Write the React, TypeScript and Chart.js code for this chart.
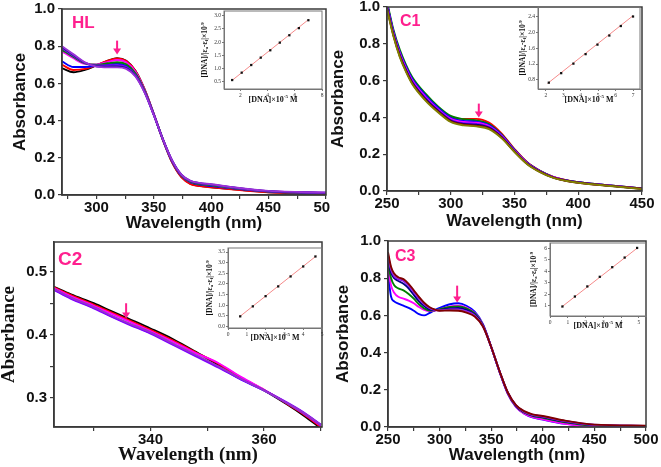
import React, { useEffect, useRef } from 'react';
import { Chart, registerables } from 'chart.js';
Chart.register(...registerables);

const PINK = '#ff1f8e';
const AX = '#3a3a3a';
const SANS = '"Liberation Sans", Arial, sans-serif';
const SERIF = '"Liberation Serif", "Times New Roman", serif';

// ---------- HL spectra ----------
const HL_WL = [270, 280, 290, 300, 310, 318, 326, 334, 342, 350, 358, 366, 374, 382, 390, 400, 420, 450, 500];
const HL_BLACK = [0.682, 0.660, 0.673, 0.697, 0.722, 0.736, 0.722, 0.668, 0.568, 0.435, 0.295, 0.175, 0.097, 0.060, 0.049, 0.042, 0.030, 0.015, 0.010];
const HL_RED = [0.700, 0.672, 0.678, 0.698, 0.722, 0.734, 0.720, 0.666, 0.566, 0.433, 0.294, 0.174, 0.096, 0.059, 0.048, 0.041, 0.029, 0.014, 0.009];
const HL_BLUE = [0.718, 0.688, 0.688, 0.695, 0.703, 0.706, 0.694, 0.648, 0.556, 0.430, 0.296, 0.180, 0.103, 0.068, 0.056, 0.048, 0.034, 0.018, 0.010];
const HL_MAGENTA = [0.772, 0.735, 0.705, 0.702, 0.716, 0.726, 0.714, 0.662, 0.565, 0.436, 0.298, 0.182, 0.105, 0.071, 0.060, 0.053, 0.037, 0.020, 0.011];
const HL_GREEN = [0.780, 0.742, 0.708, 0.700, 0.708, 0.714, 0.703, 0.655, 0.561, 0.434, 0.298, 0.182, 0.105, 0.070, 0.059, 0.052, 0.036, 0.019, 0.011];
const HL_PURPLE = [0.790, 0.748, 0.710, 0.696, 0.697, 0.698, 0.688, 0.645, 0.556, 0.432, 0.299, 0.184, 0.108, 0.074, 0.063, 0.056, 0.039, 0.020, 0.012];
const HL_NAVY = [0.795, 0.752, 0.711, 0.692, 0.690, 0.691, 0.682, 0.640, 0.552, 0.430, 0.298, 0.184, 0.109, 0.075, 0.064, 0.057, 0.040, 0.021, 0.012];
const HL_VIOLET = [0.800, 0.756, 0.713, 0.690, 0.686, 0.686, 0.678, 0.637, 0.550, 0.429, 0.298, 0.185, 0.110, 0.076, 0.065, 0.058, 0.041, 0.022, 0.013];

// ---------- C1 spectra ----------
const C1_WL = [250, 255, 260, 265, 270, 280, 290, 300, 310, 320, 330, 340, 350, 360, 370, 380, 390, 400, 425, 450];
const C1_RED = [1.02, 0.862, 0.748, 0.668, 0.602, 0.515, 0.448, 0.402, 0.392, 0.392, 0.372, 0.312, 0.228, 0.156, 0.110, 0.078, 0.060, 0.048, 0.030, 0.014];
const C1_GREEN = [1.03, 0.878, 0.768, 0.684, 0.617, 0.530, 0.460, 0.408, 0.390, 0.384, 0.364, 0.306, 0.225, 0.154, 0.109, 0.077, 0.059, 0.048, 0.030, 0.014];
const C1_BLUE = [1.02, 0.868, 0.757, 0.674, 0.607, 0.521, 0.452, 0.398, 0.381, 0.377, 0.358, 0.303, 0.223, 0.153, 0.108, 0.077, 0.059, 0.048, 0.030, 0.014];
const C1_MAGENTA = [1.01, 0.860, 0.749, 0.666, 0.599, 0.513, 0.445, 0.392, 0.375, 0.371, 0.353, 0.299, 0.221, 0.151, 0.107, 0.076, 0.058, 0.047, 0.029, 0.013];
const C1_PURPLE = [1.00, 0.855, 0.743, 0.660, 0.593, 0.507, 0.440, 0.387, 0.369, 0.365, 0.348, 0.295, 0.218, 0.149, 0.106, 0.075, 0.057, 0.046, 0.029, 0.013];
const C1_NAVY = [1.00, 0.851, 0.738, 0.655, 0.588, 0.502, 0.436, 0.383, 0.365, 0.360, 0.344, 0.292, 0.216, 0.148, 0.105, 0.074, 0.057, 0.046, 0.028, 0.012];
const C1_BROWN = [0.99, 0.846, 0.733, 0.650, 0.583, 0.497, 0.432, 0.379, 0.361, 0.355, 0.340, 0.289, 0.214, 0.147, 0.104, 0.074, 0.056, 0.045, 0.028, 0.012];
const C1_OLIVE = [0.99, 0.842, 0.729, 0.646, 0.579, 0.493, 0.428, 0.375, 0.357, 0.351, 0.336, 0.286, 0.212, 0.146, 0.103, 0.073, 0.056, 0.045, 0.027, 0.011];

// ---------- C2 spectra ----------
const C2_WL = [323, 326, 330, 333, 336, 340, 344, 348, 352, 356, 360, 364, 367, 370];
const C2_BLACK = [0.476, 0.464, 0.450, 0.438, 0.426, 0.410, 0.393, 0.373, 0.352, 0.331, 0.312, 0.290, 0.272, 0.252];
const C2_RED = [0.475, 0.463, 0.448, 0.436, 0.424, 0.408, 0.391, 0.372, 0.354, 0.332, 0.313, 0.291, 0.274, 0.254];
const C2_MAGENTA = [0.474, 0.461, 0.446, 0.434, 0.422, 0.406, 0.389, 0.371, 0.355, 0.333, 0.313, 0.292, 0.275, 0.256];
const C2_BLUE = [0.472, 0.458, 0.443, 0.430, 0.418, 0.403, 0.385, 0.367, 0.349, 0.329, 0.312, 0.292, 0.276, 0.257];
const C2_PURPLE = [0.471, 0.457, 0.442, 0.429, 0.417, 0.402, 0.384, 0.366, 0.348, 0.329, 0.312, 0.293, 0.277, 0.258];
const C2_VIOLET = [0.473, 0.459, 0.444, 0.431, 0.419, 0.404, 0.386, 0.368, 0.350, 0.330, 0.312, 0.292, 0.276, 0.257];

// ---------- C3 spectra ----------
const C3_WL = [250, 253, 256, 260, 265, 270, 275, 280, 285, 290, 295, 300, 310, 318, 326, 334, 342, 350, 358, 366, 374, 382, 390, 400, 420, 450, 500];
const C3_BLUE = [0.82, 0.70, 0.675, 0.663, 0.652, 0.640, 0.625, 0.607, 0.600, 0.612, 0.627, 0.640, 0.660, 0.665, 0.652, 0.620, 0.553, 0.430, 0.298, 0.180, 0.108, 0.072, 0.052, 0.040, 0.018, 0.004, 0.002];
const C3_MAGENTA = [0.86, 0.76, 0.722, 0.700, 0.690, 0.680, 0.665, 0.645, 0.630, 0.623, 0.625, 0.632, 0.648, 0.652, 0.642, 0.613, 0.550, 0.430, 0.298, 0.180, 0.108, 0.072, 0.053, 0.041, 0.019, 0.004, 0.002];
const C3_GREEN = [0.88, 0.80, 0.762, 0.745, 0.735, 0.715, 0.690, 0.660, 0.638, 0.626, 0.627, 0.633, 0.645, 0.648, 0.638, 0.610, 0.548, 0.430, 0.300, 0.184, 0.112, 0.078, 0.060, 0.050, 0.027, 0.008, 0.004];
const C3_NAVY = [0.90, 0.83, 0.800, 0.785, 0.770, 0.745, 0.710, 0.675, 0.650, 0.632, 0.628, 0.630, 0.638, 0.640, 0.630, 0.605, 0.546, 0.430, 0.300, 0.185, 0.114, 0.080, 0.063, 0.053, 0.030, 0.010, 0.005];
const C3_PURPLE = [0.92, 0.845, 0.810, 0.795, 0.785, 0.760, 0.725, 0.690, 0.660, 0.640, 0.630, 0.628, 0.632, 0.632, 0.622, 0.600, 0.543, 0.430, 0.301, 0.186, 0.116, 0.082, 0.065, 0.056, 0.033, 0.011, 0.006];
const C3_VIOLET = [0.925, 0.85, 0.815, 0.800, 0.790, 0.765, 0.730, 0.695, 0.663, 0.642, 0.631, 0.627, 0.630, 0.630, 0.620, 0.598, 0.542, 0.430, 0.301, 0.186, 0.116, 0.083, 0.066, 0.057, 0.034, 0.012, 0.006];
const C3_MAROON = [0.94, 0.86, 0.825, 0.805, 0.795, 0.770, 0.735, 0.700, 0.668, 0.645, 0.632, 0.625, 0.626, 0.625, 0.615, 0.594, 0.540, 0.430, 0.302, 0.187, 0.118, 0.085, 0.068, 0.059, 0.036, 0.013, 0.007];

// ---------- Insets: [DNA] vs [DNA]/|εa-εf| ----------
const HL_DNA = [1.4, 2.1, 2.8, 3.5, 4.2, 4.9, 5.6, 6.3, 7.0];
const HL_RATIO = [0.56, 0.84, 1.13, 1.41, 1.69, 1.98, 2.26, 2.53, 2.83];
const HL_FIT_X = [1.4, 7.0];
const HL_FIT_Y = [0.55, 2.85];

const C1_DNA = [2.17, 2.88, 3.58, 4.28, 4.96, 5.64, 6.3, 7.0];
const C1_RATIO = [0.73, 0.97, 1.21, 1.45, 1.69, 1.92, 2.16, 2.40];
const C1_FIT_X = [2.1, 7.0];
const C1_FIT_Y = [0.71, 2.42];

const C2_DNA = [0.65, 1.32, 2.0, 2.67, 3.33, 4.0, 4.65];
const C2_RATIO = [0.47, 0.94, 1.42, 1.88, 2.35, 2.82, 3.29];
const C2_FIT_X = [0.6, 4.7];
const C2_FIT_Y = [0.44, 3.32];

const C3_DNA = [0.7, 1.4, 2.1, 2.8, 3.5, 4.2, 4.9];
const C3_RATIO = [0.93, 1.8, 2.68, 3.52, 4.36, 5.2, 6.04];
const C3_FIT_X = [0.65, 4.95];
const C3_FIT_Y = [0.88, 6.08];

// ---------- Texts ----------
const X_TITLE = 'Wavelength (nm)';
const Y_TITLE = 'Absorbance';
const INSET_X_TITLE = [{ t: '[DNA]×10' }, { t: '-5', sup: true }, { t: ' M' }];
const INSET_Y_TITLE = [{ t: '[DNA]/|ε' }, { t: 'a', sub: true }, { t: '-ε' }, { t: 'f', sub: true }, { t: '|×10' }, { t: '-9', sup: true }];

const isMul = (v: number, m: number) => Math.abs(v / m - Math.round(v / m)) < 1e-6;

function drawRich(ctx: any, segs: any[], cx: number, cy: number, size: number, rotate: boolean) {
  ctx.save();
  ctx.translate(cx, cy);
  if (rotate) ctx.rotate(-Math.PI / 2);
  const fontFor = (s: any) => `bold ${s.sub || s.sup ? size * 0.62 : size}px ${SERIF}`;
  let total = 0;
  for (const s of segs) { ctx.font = fontFor(s); total += ctx.measureText(s.t).width; }
  let x = -total / 2;
  ctx.textBaseline = 'middle';
  ctx.textAlign = 'left';
  ctx.fillStyle = '#111';
  for (const s of segs) {
    ctx.font = fontFor(s);
    const dy = s.sub ? size * 0.3 : s.sup ? -size * 0.35 : 0;
    ctx.fillText(s.t, x, dy);
    x += ctx.measureText(s.t).width;
  }
  ctx.restore();
}

const decorPlugin = {
  id: 'decor',
  afterDatasetsDraw(chart: any, _args: any, opts: any) {
    const { ctx, chartArea: a, scales } = chart;
    ctx.save();
    if (opts.frameColor) {
      ctx.strokeStyle = opts.frameColor;
      ctx.lineWidth = opts.frameWidth;
      ctx.strokeRect(a.left, a.top, a.right - a.left, a.bottom - a.top);
    }
    if (opts.arrowX !== undefined) {
      const px = scales.x.getPixelForValue(opts.arrowX);
      const p0 = scales.y.getPixelForValue(opts.arrowFrom);
      const p1 = scales.y.getPixelForValue(opts.arrowTo);
      const hl = 6, hw = 4;
      ctx.strokeStyle = PINK; ctx.fillStyle = PINK; ctx.lineWidth = 2;
      ctx.beginPath(); ctx.moveTo(px, p0); ctx.lineTo(px, p1 - hl + 1); ctx.stroke();
      ctx.beginPath(); ctx.moveTo(px - hw, p1 - hl); ctx.lineTo(px + hw, p1 - hl); ctx.lineTo(px, p1); ctx.closePath(); ctx.fill();
    }
    if (opts.labelText) {
      ctx.font = `bold ${opts.labelSize}px ${SANS}`;
      ctx.fillStyle = PINK; ctx.textAlign = 'left'; ctx.textBaseline = 'middle';
      ctx.fillText(opts.labelText, a.left + opts.labelDx, a.top + opts.labelDy);
    }
    if (opts.insetTitles) {
      drawRich(ctx, INSET_X_TITLE, (a.left + a.right) / 2, a.bottom + opts.xDy, 8, false);
      drawRich(ctx, INSET_Y_TITLE, a.left - opts.yDx, (a.top + a.bottom) / 2, 7.5, true);
    }
    ctx.restore();
  },
};

function spectrumConfig(s: any) {
  const tickFont = { family: SANS, size: 15, weight: 'bold' };
  // later series are painted over earlier ones, as in the original figure
  const datasets = s.series.map(([color, ys]: [string, number[]]) => ({
    data: s.x.map((xv: number, i: number) => ({ x: xv, y: ys[i] })),
    borderColor: color,
    borderWidth: 1.9,
    pointRadius: 0,
    fill: false,
    cubicInterpolationMode: 'monotone',
  })).reverse();
  return {
    type: 'line',
    data: { datasets },
    options: {
      responsive: false,
      animation: false,
      devicePixelRatio: 1,
      layout: { padding: { left: 0, top: s.pt, right: s.pr, bottom: 0 } },
      plugins: {
        legend: { display: false },
        tooltip: { enabled: false },
        decor: {
          frameColor: AX, frameWidth: 1.5,
          arrowX: s.arrow[0], arrowFrom: s.arrow[1], arrowTo: s.arrow[2],
          labelText: s.label, labelSize: s.labelSize, labelDx: s.labelDx, labelDy: s.labelDy,
        },
      },
      scales: {
        x: {
          type: 'linear', min: s.xMin, max: s.xMax,
          afterFit: (sc: any) => { sc.height = s.xh; sc.paddingLeft = 0; sc.paddingRight = 0; },
          ticks: {
            stepSize: s.xStep, includeBounds: false, autoSkip: false, maxRotation: 0, minRotation: 0,
            padding: 0, color: '#111', font: tickFont,
            callback: (v: number) => (isMul(v, s.xEvery) ? String(Math.round(v)) : ''),
          },
          grid: { drawOnChartArea: false, drawTicks: true, tickLength: 4, color: AX, lineWidth: 1.2 },
          border: { display: true, color: AX, width: 1.5 },
          title: { display: true, text: X_TITLE, color: '#111', font: s.titleFont, padding: { top: 0, bottom: s.xTitlePad } },
        },
        y: {
          type: 'linear', min: s.yMin, max: s.yMax,
          afterFit: (sc: any) => { sc.width = s.yw; sc.paddingTop = 0; sc.paddingBottom = 0; },
          ticks: {
            stepSize: s.yStep, includeBounds: false, autoSkip: false, padding: 3, color: '#111', font: tickFont,
            callback: (v: number) => (isMul(v, s.yEvery) ? v.toFixed(1) : ''),
          },
          grid: { drawOnChartArea: false, drawTicks: true, tickLength: 4, color: AX, lineWidth: 1.2 },
          border: { display: true, color: AX, width: 1.5 },
          title: { display: true, text: Y_TITLE, color: '#111', font: s.yTitleFont || s.titleFont, padding: { top: s.yTitlePad, bottom: 0 } },
        },
      },
    },
    plugins: [decorPlugin],
  };
}

function insetConfig(s: any) {
  const f = { family: SERIF, size: 5.5 };
  return {
    type: 'scatter',
    data: {
      datasets: [
        {
          data: s.x.map((xv: number, i: number) => ({ x: xv, y: s.y[i] })),
          pointStyle: 'rect', pointRadius: 1.6, backgroundColor: '#111', borderColor: '#111', borderWidth: 0,
        },
        {
          data: s.fitX.map((xv: number, i: number) => ({ x: xv, y: s.fitY[i] })),
          showLine: true, borderColor: '#f58a8a', borderWidth: 1, pointRadius: 0,
        },
      ],
    },
    options: {
      responsive: false,
      animation: false,
      devicePixelRatio: 1,
      layout: { padding: { left: 0, top: s.pt, right: s.pr, bottom: 0 } },
      plugins: {
        legend: { display: false },
        tooltip: { enabled: false },
        decor: { frameColor: '#777', frameWidth: 1, insetTitles: true, xDy: s.xDy, yDx: s.yDx },
      },
      scales: {
        x: {
          type: 'linear', min: s.xMin, max: s.xMax,
          afterFit: (sc: any) => { sc.height = s.xh; sc.paddingLeft = 0; sc.paddingRight = 0; },
          ticks: { stepSize: s.xStep, includeBounds: false, autoSkip: false, maxRotation: 0, padding: 1, color: '#333', font: f },
          grid: { drawOnChartArea: false, tickLength: 2, color: '#777' },
          border: { display: true, color: '#777', width: 1 },
        },
        y: {
          type: 'linear', min: s.yMin, max: s.yMax,
          afterFit: (sc: any) => { sc.width = s.yw; sc.paddingTop = 0; sc.paddingBottom = 0; },
          ticks: {
            stepSize: s.yStep, includeBounds: false, autoSkip: false, padding: 1, color: '#333', font: f,
            callback: (v: number) => v.toFixed(s.yDec),
          },
          grid: { drawOnChartArea: false, tickLength: 2, color: '#777' },
          border: { display: true, color: '#777', width: 1 },
        },
      },
    },
    plugins: [decorPlugin],
  };
}

const sansTitle = { family: SANS, size: 17, weight: 'bold' };
const serifTitle = { family: SERIF, size: 19, weight: 'bold' };

const PANELS = [
  {
    pos: { left: 0, top: 0, w: 330, h: 238 },
    cfg: () => spectrumConfig({
      x: HL_WL,
      series: [['#000000', HL_BLACK], ['#ff0000', HL_RED], ['#0000ff', HL_BLUE], ['#ff00ff', HL_MAGENTA], ['#008000', HL_GREEN], ['#8000ff', HL_PURPLE], ['#1a1a8c', HL_NAVY], ['#9b30d9', HL_VIOLET]],
      xMin: 270, xMax: 500, xStep: 25, xEvery: 50, yMin: 0, yMax: 1, yStep: 0.2, yEvery: 0.2,
      yw: 62, pr: 4, pt: 9, xh: 43, xTitlePad: 4, yTitlePad: 10, titleFont: sansTitle,
      arrow: [318, 0.83, 0.755], label: 'HL', labelSize: 17, labelDx: 10, labelDy: 14,
    }),
  },
  {
    pos: { left: 330, top: 0, w: 331, h: 238 },
    cfg: () => spectrumConfig({
      x: C1_WL,
      series: [['#ff0000', C1_RED], ['#008000', C1_GREEN], ['#0000ff', C1_BLUE], ['#ff00ff', C1_MAGENTA], ['#8000ff', C1_PURPLE], ['#000080', C1_NAVY], ['#8b0000', C1_BROWN], ['#808000', C1_OLIVE]],
      xMin: 250, xMax: 450, xStep: 25, xEvery: 50, yMin: 0, yMax: 1, yStep: 0.2, yEvery: 0.2,
      yw: 57, pr: 19, pt: 7, xh: 47, xTitlePad: 6, yTitlePad: -2, titleFont: sansTitle,
      arrow: [322, 0.475, 0.40], label: 'C1', labelSize: 16, labelDx: 13, labelDy: 15,
    }),
  },
  {
    pos: { left: 0, top: 230, w: 330, h: 237 },
    cfg: () => spectrumConfig({
      x: C2_WL,
      series: [['#000000', C2_BLACK], ['#ff0000', C2_RED], ['#ff00ff', C2_MAGENTA], ['#0000ff', C2_BLUE], ['#8000ff', C2_PURPLE], ['#9932cc', C2_VIOLET]],
      xMin: 323, xMax: 370.2, xStep: 10, xEvery: 20, yMin: 0.254, yMax: 0.547, yStep: 0.05, yEvery: 0.1,
      yw: 54, pr: 8, pt: 12, xh: 40, xTitlePad: 1, yTitlePad: -2, titleFont: serifTitle,
      arrow: [335.7, 0.45, 0.426], label: 'C2', labelSize: 19, labelDx: 4, labelDy: 18,
    }),
  },
  {
    pos: { left: 330, top: 230, w: 331, h: 237 },
    cfg: () => spectrumConfig({
      x: C3_WL,
      series: [['#0000ff', C3_BLUE], ['#ff00ff', C3_MAGENTA], ['#008000', C3_GREEN], ['#000080', C3_NAVY], ['#8000ff', C3_PURPLE], ['#9932cc', C3_VIOLET], ['#800000', C3_MAROON]],
      xMin: 250, xMax: 500, xStep: 25, xEvery: 50, yMin: 0, yMax: 1, yStep: 0.2, yEvery: 0.2,
      yw: 58, pr: 15, pt: 11, xh: 40, xTitlePad: 1, yTitlePad: 3, titleFont: sansTitle,
      arrow: [317, 0.76, 0.67], label: 'C3', labelSize: 16, labelDx: 7, labelDy: 16,
    }),
  },
  {
    pos: { left: 196, top: 4, w: 130, h: 104 },
    cfg: () => insetConfig({
      x: HL_DNA, y: HL_RATIO, fitX: HL_FIT_X, fitY: HL_FIT_Y,
      xMin: 0.8, xMax: 8.0, xStep: 2, yMin: 0.22, yMax: 3.18, yStep: 0.5, yDec: 1,
      yw: 28, pr: 4, pt: 7, xh: 19, xDy: 11, yDx: 19,
    }),
  },
  {
    pos: { left: 508, top: 0, w: 136, h: 106 },
    cfg: () => insetConfig({
      x: C1_DNA, y: C1_RATIO, fitX: C1_FIT_X, fitY: C1_FIT_Y,
      xMin: 1.55, xMax: 7.4, xStep: 1, yMin: 0.57, yMax: 2.64, yStep: 0.4, yDec: 1,
      yw: 30, pr: 2, pt: 7, xh: 17, xDy: 11, yDx: 15,
    }),
  },
  {
    pos: { left: 196, top: 242, w: 130, h: 104 },
    cfg: () => insetConfig({
      x: C2_DNA, y: C2_RATIO, fitX: C2_FIT_X, fitY: C2_FIT_Y,
      xMin: 0, xMax: 5, xStep: 1, yMin: -0.08, yMax: 3.69, yStep: 0.5, yDec: 1,
      yw: 32, pr: 4, pt: 6, xh: 18, xDy: 10, yDx: 18,
    }),
  },
  {
    pos: { left: 518, top: 236, w: 132, h: 100 },
    cfg: () => insetConfig({
      x: C3_DNA, y: C3_RATIO, fitX: C3_FIT_X, fitY: C3_FIT_Y,
      xMin: 0, xMax: 5.4, xStep: 1, yMin: 0.1, yMax: 6.47, yStep: 1, yDec: 0,
      yw: 32, pr: 4, pt: 7, xh: 20, xDy: 10, yDx: 16,
    }),
  },
];

function ChartCanvas({ pos, make }: { pos: { left: number; top: number; w: number; h: number }; make: () => any }) {
  const ref = useRef<HTMLCanvasElement>(null);
  useEffect(() => {
    const chart = new Chart(ref.current as HTMLCanvasElement, make());
    return () => chart.destroy();
  }, []);
  return (
    <canvas
      ref={ref}
      width={pos.w}
      height={pos.h}
      style={{ position: 'absolute', left: pos.left, top: pos.top, width: pos.w, height: pos.h }}
    />
  );
}

export default function App() {
  return (
    <div style={{ position: 'absolute', left: 0, top: 0, width: 661, height: 467, background: '#fff', overflow: 'hidden' }}>
      {PANELS.map((p, i) => (
        <ChartCanvas key={i} pos={p.pos} make={p.cfg} />
      ))}
    </div>
  );
}
